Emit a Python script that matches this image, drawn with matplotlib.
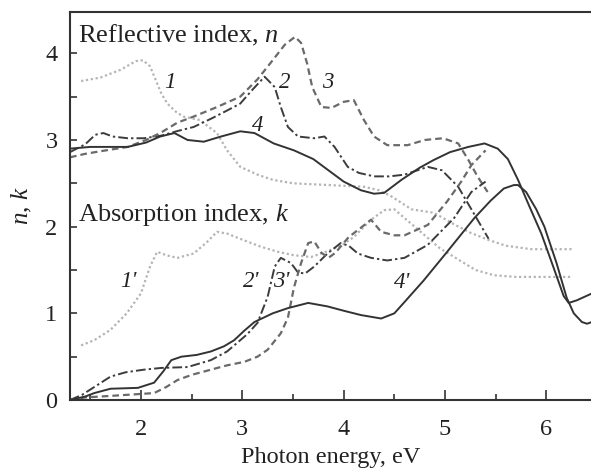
"""Refractive (n) and absorption (k) index spectra versus photon energy."""

import matplotlib

matplotlib.use("Agg")
import matplotlib.pyplot as plt
from matplotlib.ticker import FixedLocator, FuncFormatter, MultipleLocator

plt.rcParams["font.family"] = ["Liberation Serif", "DejaVu Serif"]
plt.rcParams["mathtext.fontset"] = "custom"
plt.rcParams["mathtext.rm"] = "Liberation Serif"
plt.rcParams["mathtext.it"] = "Liberation Serif:italic"

# photon energy (eV) / index values for each sample
n1_e = [1.41, 1.6, 1.8, 1.95, 2.02, 2.09, 2.15, 2.2, 2.26, 2.35, 2.42, 2.58, 2.75, 2.85, 2.98,
        3.15, 3.3, 3.5, 3.85, 4.2, 4.35, 4.47, 4.67, 4.89, 5.1, 5.25, 5.42, 5.6, 5.85, 6.25]
n1_v = [3.68, 3.72, 3.81, 3.91, 3.92, 3.85, 3.68, 3.54, 3.42, 3.32, 3.27, 3.23, 3.08, 2.88, 2.69,
        2.6, 2.54, 2.5, 2.48, 2.46, 2.42, 2.35, 2.2, 2.16, 2.02, 1.93, 1.85, 1.78, 1.74, 1.74]

n2_e = [1.3, 1.45, 1.55, 1.63, 1.72, 1.87, 2.03, 2.2, 2.35, 2.52, 2.7, 2.85, 2.98, 3.1, 3.22,
        3.32, 3.38, 3.45, 3.55, 3.71, 3.81, 3.91, 4.04, 4.15, 4.3, 4.45, 4.6, 4.83, 4.97, 5.13,
        5.29, 5.43]
n2_v = [2.86, 2.95, 3.06, 3.08, 3.04, 3.02, 3.02, 3.05, 3.1, 3.15, 3.25, 3.34, 3.42, 3.58, 3.73,
        3.61, 3.38, 3.15, 3.04, 3.02, 3.04, 2.92, 2.69, 2.62, 2.58, 2.58, 2.6, 2.69, 2.65, 2.46,
        2.14, 1.86]

n3_e = [1.3, 1.45, 1.6, 1.87, 2.05, 2.19, 2.36, 2.52, 2.75, 2.98, 3.15, 3.3, 3.42, 3.52, 3.58,
        3.64, 3.69, 3.78, 3.88, 4.0, 4.1, 4.2, 4.3, 4.43, 4.63, 4.8, 4.98, 5.13, 5.23, 5.32, 5.42]
n3_v = [2.8, 2.84, 2.87, 2.92, 3.0, 3.08, 3.2, 3.27, 3.38, 3.5, 3.7, 3.92, 4.1, 4.19, 4.12,
        3.88, 3.61, 3.38, 3.37, 3.44, 3.46, 3.23, 3.04, 2.94, 2.94, 3.0, 3.02, 2.96, 2.77, 2.58, 2.4]

n4_e = [1.3, 1.5, 1.7, 1.87, 2.05, 2.19, 2.33, 2.46, 2.62, 2.79, 2.98, 3.12, 3.31, 3.51, 3.7,
        3.85, 4.0, 4.17, 4.3, 4.4, 4.57, 4.75, 4.89, 5.05, 5.23, 5.39, 5.52, 5.62, 5.72, 5.83,
        5.95, 6.07, 6.17, 6.22, 6.3, 6.45]
n4_v = [2.9, 2.92, 2.92, 2.92, 2.97, 3.04, 3.08, 3.0, 2.98, 3.04, 3.1, 3.08, 2.96, 2.88, 2.78,
        2.65, 2.52, 2.42, 2.38, 2.39, 2.54, 2.68, 2.77, 2.86, 2.92, 2.96, 2.9, 2.78, 2.54, 2.24,
        1.92, 1.53, 1.2, 1.12, 1.15, 1.23]

k1_e = [1.41, 1.54, 1.7, 1.86, 2.0, 2.09, 2.16, 2.25, 2.36, 2.52, 2.65, 2.75, 2.85, 3.0, 3.18,
        3.35, 3.51, 3.68, 3.85, 4.0, 4.1, 4.27, 4.4, 4.5, 4.65, 4.8, 4.95, 5.16, 5.3, 5.48, 5.7,
        6.25]
k1_v = [0.63, 0.69, 0.81, 1.0, 1.23, 1.54, 1.71, 1.67, 1.64, 1.69, 1.82, 1.94, 1.92, 1.85, 1.77,
        1.71, 1.67, 1.65, 1.72, 1.8, 1.88, 2.08, 2.19, 2.2, 2.05, 1.9, 1.75, 1.6, 1.5, 1.44, 1.42,
        1.42]

k2_e = [1.3, 1.42, 1.54, 1.7, 1.85, 2.03, 2.2, 2.46, 2.69, 2.85, 2.95, 3.05, 3.15, 3.25, 3.32,
        3.38, 3.48, 3.55, 3.62, 3.71, 3.84, 3.97, 4.05, 4.14, 4.27, 4.43, 4.6, 4.83, 5.09, 5.26,
        5.4]
k2_v = [0.0, 0.06, 0.15, 0.27, 0.32, 0.35, 0.37, 0.38, 0.46, 0.56, 0.66, 0.76, 0.89, 1.19, 1.54,
        1.64, 1.58, 1.47, 1.46, 1.54, 1.69, 1.81, 1.78, 1.69, 1.64, 1.61, 1.64, 1.79, 2.1, 2.4,
        2.52]

k3_e = [1.3, 1.45, 1.6, 1.87, 2.13, 2.25, 2.36, 2.5, 2.69, 2.85, 3.02, 3.15, 3.25, 3.38, 3.45,
        3.51, 3.58, 3.65, 3.71, 3.78, 3.85, 3.92, 3.97, 4.05, 4.14, 4.27, 4.37, 4.5, 4.6, 4.83,
        5.02, 5.16, 5.26, 5.4]
k3_v = [0.0, 0.03, 0.04, 0.06, 0.08, 0.15, 0.23, 0.29, 0.35, 0.4, 0.44, 0.5, 0.58, 0.77, 0.95,
        1.3, 1.58, 1.81, 1.83, 1.7, 1.64, 1.7, 1.77, 1.88, 1.96, 2.08, 1.94, 1.9, 1.9, 2.02,
        2.29, 2.52, 2.71, 2.88]

k4_e = [1.3, 1.45, 1.54, 1.7, 1.97, 2.13, 2.22, 2.3, 2.4, 2.55, 2.69, 2.82, 2.92, 3.02, 3.12,
        3.3, 3.45, 3.65, 3.84, 4.0, 4.17, 4.37, 4.5, 4.6, 4.79, 5.0, 5.29, 5.45, 5.58, 5.68, 5.72,
        5.8, 5.9, 5.98, 6.1, 6.2, 6.27, 6.35, 6.4, 6.45]
k4_v = [0.0, 0.04, 0.08, 0.13, 0.14, 0.2, 0.33, 0.46, 0.5, 0.52, 0.56, 0.62, 0.69, 0.8, 0.9,
        1.0, 1.06, 1.12, 1.08, 1.03, 0.98, 0.94, 1.0, 1.13, 1.38, 1.68, 2.1, 2.3, 2.44, 2.48, 2.48,
        2.4, 2.2, 2.0, 1.58, 1.18, 1.0, 0.9, 0.88, 0.9]

curve_tags = ["1", "2", "3", "4", "1'", "2'", "3'", "4'"]
tag_e = [2.29, 3.42, 3.84, 3.15, 1.88, 3.09, 3.38, 4.58]
tag_v = [3.66, 3.66, 3.66, 3.17, 1.37, 1.37, 1.37, 1.355]

styles = {
    1: dict(color="#b4b4b4", linestyle=(0, (1.0, 1.2)), linewidth=1.6),
    2: dict(color="#3c3c3c", linestyle=(0, (5.0, 1.6, 1.2, 1.6)), linewidth=1.4),
    3: dict(color="#6a6a6a", linestyle=(0, (3.0, 1.8)), linewidth=1.6),
    4: dict(color="#333333", linestyle="-", linewidth=1.4),
}

fig = plt.figure(figsize=(5.91, 4.68), dpi=100)
ax = fig.add_axes([0.1184, 0.1453, 0.8816, 0.8297])

for idx, (e, v) in enumerate([(n1_e, n1_v), (n2_e, n2_v), (n3_e, n3_v), (n4_e, n4_v)], start=1):
    ax.plot(e, v, **styles[idx])
for idx, (e, v) in enumerate([(k1_e, k1_v), (k2_e, k2_v), (k3_e, k3_v), (k4_e, k4_v)], start=1):
    ax.plot(e, v, **styles[idx])

ax.set_xlim(1.30, 6.44)
ax.set_ylim(0, 4.48)

for tag, e, v in zip(curve_tags, tag_e, tag_v):
    ax.text(e, v, tag, fontsize=16.5, fontstyle="italic", ha="center", va="center", color="#222222")

ax.text(1.38, 4.13, r"Reflective index, $n$", fontsize=19, va="baseline", ha="left", color="#222222")
ax.text(1.38, 2.06, r"Absorption index, $k$", fontsize=19, va="baseline", ha="left", color="#222222")

ax.xaxis.set_major_locator(FixedLocator([2, 3, 4, 5, 6]))
ax.xaxis.set_minor_locator(MultipleLocator(0.5))
ax.yaxis.set_major_locator(MultipleLocator(0.5))
ax.yaxis.set_major_formatter(FuncFormatter(lambda val, pos: f"{val:.0f}" if abs(val - round(val)) < 1e-6 else ""))

ax.tick_params(axis="both", which="both", direction="in", top=False, right=False,
               colors="#333333", labelcolor="#222222", labelsize=17.5, width=1.2)
ax.tick_params(axis="x", which="major", length=7, pad=14)
ax.tick_params(axis="x", which="minor", length=4)
ax.tick_params(axis="y", which="major", length=5, pad=9)

for side in ["left", "bottom", "top"]:
    ax.spines[side].set_linewidth(1.5)
    ax.spines[side].set_color("#333333")
ax.spines["right"].set_visible(False)

ax.set_xlabel("Photon energy, eV", fontsize=17.5, color="#222222", labelpad=5)
ax.set_ylabel(r"$n$, $k$", fontsize=18, color="#222222", labelpad=8)

fig.savefig("out.png", dpi=100)
